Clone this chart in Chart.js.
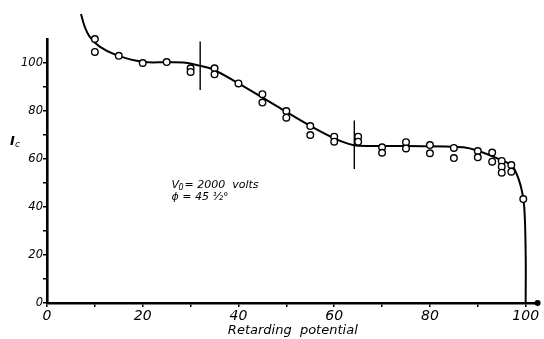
<!DOCTYPE html>
<html>
<head>
<meta charset="utf-8">
<script src="https://cdn.jsdelivr.net/npm/chart.js@4.4.1/dist/chart.umd.min.js"></script>
<style>
  html, body { margin: 0; padding: 0; background: #fff; }
  #wrap { width: 544px; height: 339px; position: relative; }
</style>
</head>
<body>
<div id="wrap"><canvas id="chart"></canvas></div>
<script>
// measured points (open circles)
const pointX = [10, 10, 15, 20, 25, 30, 30, 35, 35, 40, 45, 45, 50, 50, 55, 55,
  60, 60, 65, 65, 70, 70, 75, 75, 80, 80, 85, 85, 90, 90, 93, 93, 95, 95, 95, 97, 97, 99.5];
const pointY = [110, 104.6, 103, 100, 100.4, 97.8, 96.3, 97.8, 95.3, 91.5, 87, 83.5, 80, 77.2, 73.7, 70,
  69.3, 67.2, 69.3, 67.2, 64.9, 62.6, 67, 64.4, 65.8, 62.4, 64.6, 60.4, 63.3, 60.7, 62.7, 58.9, 59.2, 56.8, 54.3, 57.5, 54.7, 43.3];

// hand-drawn fitted curve
const curveX = [7.1, 7.9, 8.9, 11, 14.5, 20, 25, 29, 31.8, 34.5, 40, 48, 55, 60, 63, 65, 75, 87, 90.6, 94.8, 97.3, 99, 99.7, 100, 100];
const curveY = [120.4, 115, 111, 106.8, 103.3, 100.5, 100.3, 100.1, 98.9, 97.5, 91.5, 82, 73.8, 68.6, 66.3, 65.5, 65.4, 64.9, 63, 59.6, 56.8, 48.5, 40, 20, 0];

// short vertical marks on the curve
const markerX = [32, 64.2];
const markerTop = [109, 76];
const markerBottom = [88.7, 55.8];

// tick marks every 10, labels every 20
const xTicks = [0, 10, 20, 30, 40, 50, 60, 70, 80, 90, 100];
const yTicks = [0, 10, 20, 30, 40, 50, 60, 70, 80, 90, 100];
const xTickLabels = [0, 20, 40, 60, 80, 100];
const yTickLabels = [0, 20, 40, 60, 80, 100];

const FONT = "'DejaVu Sans', sans-serif";

const toXY = (xs, ys) => xs.map((x, i) => ({ x: x, y: ys[i] }));

const markerSets = markerX.map((x, i) => ({
  data: [{ x: x, y: markerTop[i] }, { x: x, y: markerBottom[i] }],
  showLine: true,
  borderColor: "#000",
  borderWidth: 1.4,
  pointRadius: 0,
  clip: false,
  order: 2
}));

// extra text and the end dot of the x axis
const notes = {
  id: "notes",
  afterDraw(chart) {
    const ctx = chart.ctx;
    const x = chart.scales.x, y = chart.scales.y;
    const area = chart.chartArea;
    ctx.save();
    ctx.fillStyle = "#000";

    // axis end dot
    ctx.beginPath();
    ctx.arc(area.right - 1, area.bottom, 3, 0, Math.PI * 2);
    ctx.fill();

    // I_c
    ctx.textBaseline = "alphabetic";
    ctx.textAlign = "left";
    ctx.font = "italic bold 13px " + FONT;
    const ix = area.left - 37, iy = y.getPixelForValue(66);
    ctx.fillText("I", ix, iy);
    ctx.font = "italic 9px " + FONT;
    ctx.fillText("c", ix + 5, iy + 2);

    // conditions
    ctx.font = "italic 11px " + FONT;
    const ax = x.getPixelForValue(26);
    ctx.fillText("V", ax, y.getPixelForValue(48));
    ctx.font = "italic 8px " + FONT;
    ctx.fillText("0", ax + 7, y.getPixelForValue(47));
    ctx.font = "italic 11px " + FONT;
    ctx.fillText("= 2000  volts", ax + 13, y.getPixelForValue(48));
    ctx.fillText("\u03D5 = 45 \u00BD\u00B0", ax, y.getPixelForValue(43));
    ctx.restore();
  }
};

new Chart(document.getElementById("chart"), {
  type: "scatter",
  data: {
    datasets: [
      {
        data: toXY(pointX, pointY),
        pointRadius: 3.3,
        pointBorderWidth: 1.4,
        pointBorderColor: "#000",
        pointBackgroundColor: "#fff",
        showLine: false,
        clip: false,
        order: 0
      },
      {
        data: toXY(curveX, curveY),
        showLine: true,
        borderColor: "#000",
        borderWidth: 2,
        tension: 0.35,
        pointRadius: 0,
        clip: false,
        order: 1
      },
      ...markerSets
    ]
  },
  options: {
    responsive: true,
    maintainAspectRatio: false,
    animation: false,
    events: [],
    layout: { padding: { left: 0, right: 3, top: 39, bottom: 0 } },
    plugins: { legend: { display: false }, tooltip: { enabled: false } },
    scales: {
      x: {
        type: "linear",
        min: 0,
        max: 102.7,
        afterFit: s => { s.height = 36; },
        afterBuildTicks: s => { s.ticks = xTicks.map(v => ({ value: v })); },
        ticks: {
          padding: 1,
          color: "#000",
          maxRotation: 0,
          autoSkip: false,
          font: { family: FONT, style: "italic", size: 14 },
          callback: v => xTickLabels.includes(v) ? String(v) : ""
        },
        grid: { drawOnChartArea: false, drawTicks: true, tickLength: 4, color: "#000", lineWidth: 1.5 },
        border: { display: true, color: "#000", width: 2.6 },
        title: {
          display: true,
          text: "Retarding  potential",
          color: "#000",
          font: { family: FONT, style: "italic", size: 13 },
          padding: { top: 0, bottom: 1 }
        }
      },
      y: {
        type: "linear",
        min: 0,
        max: 110,
        afterFit: s => { s.width = 47; },
        afterBuildTicks: s => { s.ticks = yTicks.map(v => ({ value: v })); },
        ticks: {
          padding: 0,
          color: "#000",
          autoSkip: false,
          font: { family: FONT, style: "italic", size: 11.5 },
          callback: v => yTickLabels.includes(v) ? String(v) : ""
        },
        grid: { drawOnChartArea: false, drawTicks: true, tickLength: 4, color: "#000", lineWidth: 1.5 },
        border: { display: true, color: "#000", width: 2.6 }
      }
    }
  },
  plugins: [notes]
});
</script>
</body>
</html>
